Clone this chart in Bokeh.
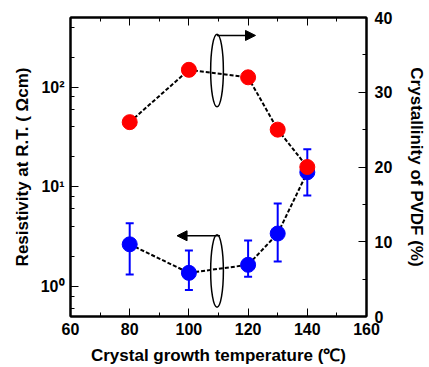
import math
from bokeh.plotting import figure
from bokeh.models import (Range1d, LinearAxis, LinearScale, FixedTicker, LogTicker, Whisker,
                          ColumnDataSource, Arrow, NormalHead)
from bokeh.embed import file_html
from bokeh.resources import INLINE

# Data
temps = [80, 100, 120, 130, 140]
resistivity = [2.65, 1.37, 1.65, 3.4, 14.0]
res_upper = [4.3, 2.3, 2.9, 6.8, 23.8]
res_lower = [1.32, 0.92, 1.25, 1.78, 8.2]
crystallinity = [26.0, 33.0, 32.0, 25.0, 20.0]

x_ticks = [60, 80, 100, 120, 140, 160]
x_minor = [70, 90, 110, 130, 150]
right_ticks = [0, 10, 20, 30, 40]
right_minor = [5, 15, 25, 35]
log_labels = {1: "10⁰", 10: "10¹", 100: "10²"}
right_label = "Crystallinity of PVDF (%)"

FONT = "Liberation Sans"

p = figure(width=429, height=367, x_range=Range1d(60, 160), y_range=Range1d(0.5, 500),
           y_axis_type="log", output_backend="svg", toolbar_location=None,
           min_border_left=70, min_border_right=60, min_border_top=17, min_border_bottom=50)
p.extra_y_ranges = {"right": Range1d(0, 40)}
p.extra_y_scales = {"right": LinearScale()}
p.xgrid.visible = False
p.ygrid.visible = False
p.outline_line_color = "black"
p.outline_line_width = 2
p.background_fill_color = "white"
p.border_fill_color = "white"

def style_axis(ax):
    ax.axis_line_width = 2
    ax.axis_line_color = "black"
    ax.major_tick_in = 8
    ax.major_tick_out = 0
    ax.minor_tick_in = 4
    ax.minor_tick_out = 0
    ax.major_tick_line_width = 1
    ax.minor_tick_line_width = 1
    ax.major_label_text_font = FONT
    ax.major_label_text_font_style = "bold"
    ax.major_label_text_font_size = "16px"
    ax.major_label_text_color = "black"
    ax.axis_label_text_font = FONT
    ax.axis_label_text_font_style = "bold"
    ax.axis_label_text_font_size = "17px"
    ax.axis_label_text_color = "black"

# bottom axis
xa = p.xaxis[0]
xa.ticker = FixedTicker(ticks=x_ticks, minor_ticks=x_minor)
xa.axis_label = "Crystal growth temperature (℃)"
style_axis(xa)
xa.major_label_standoff = 6
xa.axis_label_standoff = 8

# left log axis
ya = p.yaxis[0]
ya.ticker = LogTicker()
ya.major_label_overrides = log_labels
ya.axis_label = "Resistivity at R.T. ( Ωcm)"
style_axis(ya)
ya.major_label_standoff = 6
ya.axis_label_standoff = 6

# right axis
ra = LinearAxis(y_range_name="right", ticker=FixedTicker(ticks=right_ticks, minor_ticks=right_minor),
                axis_label=right_label)
style_axis(ra)
ra.major_label_standoff = 8
ra.axis_label_standoff = 12
p.add_layout(ra, "right")

# top axis
ta = LinearAxis(ticker=FixedTicker(ticks=x_ticks, minor_ticks=x_minor))
style_axis(ta)
ta.major_label_text_font_size = "0px"
ta.major_label_text_color = None
p.add_layout(ta, "above")

# series
src_r = ColumnDataSource(dict(x=temps, y=resistivity, up=res_upper, lo=res_lower))
p.line("x", "y", source=src_r, line_color="black", line_width=2, line_dash="4 2")
src_c = ColumnDataSource(dict(x=temps, y=crystallinity))
p.line("x", "y", source=src_c, y_range_name="right", line_color="black", line_width=2, line_dash="4 2")

wh = Whisker(source=src_r, base="x", upper="up", lower="lo", line_color="#0000ff", line_width=2)
wh.upper_head.line_color = "#0000ff"
wh.lower_head.line_color = "#0000ff"
wh.upper_head.line_width = 2
wh.lower_head.line_width = 2
wh.upper_head.size = 8
wh.lower_head.size = 8
p.add_layout(wh)
p.scatter("x", "y", source=src_r, size=15, fill_color="#0000ff", line_color="#0000ff")
p.scatter("x", "y", source=src_c, y_range_name="right", size=15, fill_color="#ff0000", line_color="#ff0000")

# annotations: ellipses and arrows (in right-axis coordinates)
ell_x = [109.5, 109.5]
ell_y = [32.9, 6.1]
p.ellipse(x=ell_x, y=ell_y, width=4.3, height=9.7, y_range_name="right",
          fill_color=None, line_color="black", line_width=1.5)

p.add_layout(Arrow(end=NormalHead(size=10, fill_color="black", line_color="black"),
                   x_start=109.5, y_start=37.6, x_end=122.5, y_end=37.6,
                   y_range_name="right", line_color="black", line_width=1.5))
p.add_layout(Arrow(end=NormalHead(size=10, fill_color="black", line_color="black"),
                   x_start=110.5, y_start=10.8, x_end=96.0, y_end=10.8,
                   y_range_name="right", line_color="black", line_width=1.5))

open("out.html", "w").write(file_html(p, INLINE))
